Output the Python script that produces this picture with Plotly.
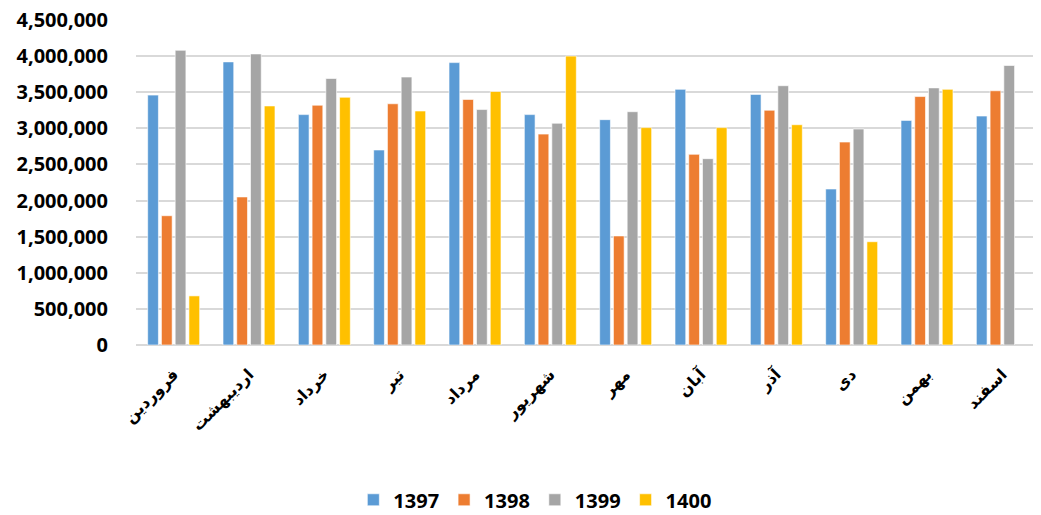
import plotly.graph_objects as go

months = ["فروردین", "اردیبهشت", "خرداد", "تیر", "مرداد", "شهریور",
          "مهر", "آبان", "آذر", "دی", "بهمن", "اسفند"]
years = ["1397", "1398", "1399", "1400"]
v1397 = [3460000, 3920000, 3190000, 2700000, 3910000, 3190000,
         3120000, 3540000, 3470000, 2160000, 3110000, 3170000]
v1398 = [1790000, 2050000, 3320000, 3340000, 3400000, 2920000,
         1510000, 2640000, 3250000, 2810000, 3440000, 3520000]
v1399 = [4080000, 4030000, 3690000, 3710000, 3260000, 3070000,
         3230000, 2580000, 3590000, 2990000, 3560000, 3870000]
v1400 = [680000, 3310000, 3430000, 3240000, 3510000, 4000000,
         3010000, 3010000, 3050000, 1430000, 3540000, None]
colors = ["#5B9BD5", "#ED7D31", "#A5A5A5", "#FFC000"]
series = [v1397, v1398, v1399, v1400]
yticks = [0, 500000, 1000000, 1500000, 2000000, 2500000, 3000000,
          3500000, 4000000, 4500000]

fig = go.Figure()
for name, vals, col in zip(years, series, colors):
    fig.add_trace(go.Bar(
        x=months, y=vals, name=name,
        marker=dict(color=col, line=dict(color="white", width=0.6)),
    ))

# page body has an 8px default margin; figure sized to fit the window
fig.update_layout(
    width=1033, height=507,
    margin=dict(l=128, r=1, t=12, b=170),
    paper_bgcolor="white", plot_bgcolor="white",
    barmode="group", bargap=0.27, bargroupgap=0.22,
    showlegend=True,
    legend=dict(orientation="h", xref="container", yref="container",
                x=0.51, xanchor="center", y=0.03, yanchor="middle",
                font=dict(family="Open Sans", size=20, color="black", weight="bold"),
                itemwidth=30, traceorder="normal"),
    font=dict(family="Open Sans", color="black"),
)
fig.update_yaxes(
    range=[0, 4500000], tickvals=yticks, tickformat=",d", automargin=False,
    ticklabeloverflow="allow",
    showgrid=True, gridcolor="#D9D9D9", gridwidth=1.5,
    zeroline=True, zerolinecolor="#D9D9D9", zerolinewidth=1.5,
    showline=False, ticks="", ticklabelstandoff=27,
    tickfont=dict(family="Open Sans", size=20, color="black", weight="bold"),
)
fig.update_xaxes(
    tickangle=-45, showline=False, ticks="", automargin=False,
    ticklabelstandoff=16,
    tickfont=dict(family="DejaVu Sans", size=16, color="black", weight="bold"),
)

fig.write_html("out.html")
